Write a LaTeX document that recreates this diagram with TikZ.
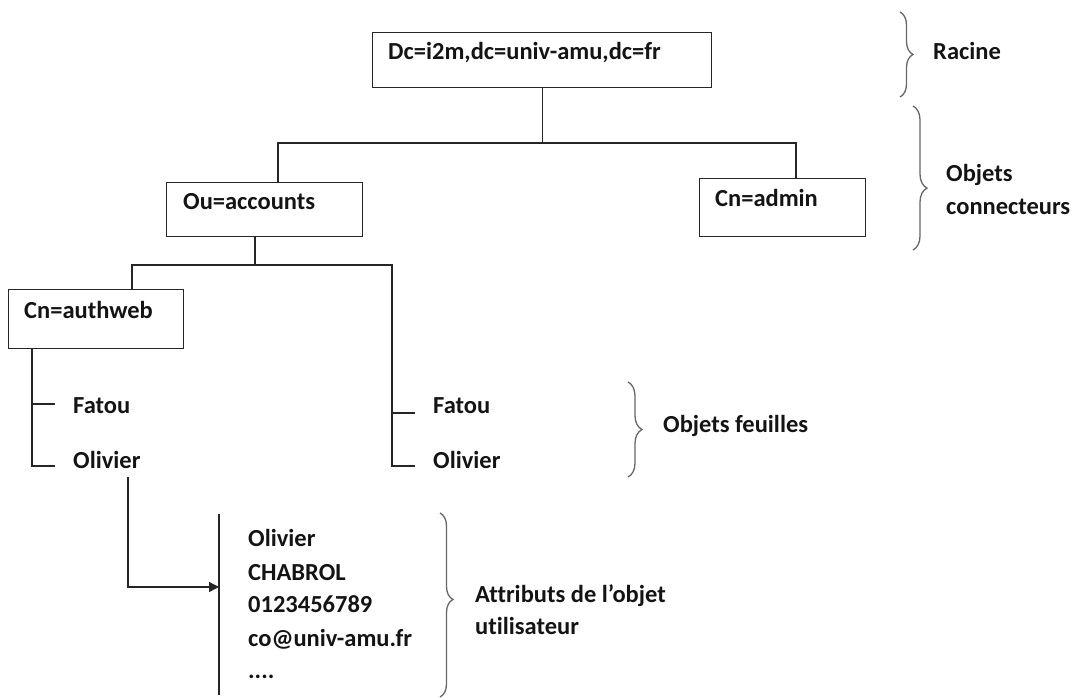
\documentclass[tikz,border=0pt]{standalone}
\usepackage{fontspec}
\setmainfont{Carlito}[Ligatures=NoCommon]
\usetikzlibrary{arrows.meta,decorations.pathreplacing}
\tikzset{
  lbl/.style={font=\fontsize{24.5}{29}\selectfont\bfseries, inner sep=0pt, anchor=base west, text=black!92},
  boxnode/.style={draw=black!85, line width=1.4pt, inner sep=0pt, anchor=north west},
  conn/.style={draw=black!85, line width=1.3pt},
  brc/.style={draw=black!60, line width=1.3pt, decorate},
}
\begin{document}
\begin{tikzpicture}[x=1pt,y=-1pt]
\useasboundingbox (0,0) rectangle (1073,700);
% boxes
\node[boxnode, minimum width=339pt, minimum height=55pt] (root) at (372,32) {};
\node[lbl] (rootT) at (388,60) {Dc=i2m,dc=univ-amu,dc=fr};
\node[boxnode, minimum width=196pt, minimum height=54pt] (ou) at (166,182) {};
\node[lbl] (ouT) at (183,210) {Ou=accounts};
\node[boxnode, minimum width=166pt, minimum height=58pt] (admin) at (699,178) {};
\node[lbl] (adminT) at (715,207) {Cn=admin};
\node[boxnode, minimum width=175pt, minimum height=59pt] (auth) at (8,289) {};
\node[lbl] (authT) at (24,319) {Cn=authweb};
% leaves
\node[lbl] (fatouL) at (73,413) {Fatou};
\node[lbl] (olivL) at (73,468) {Olivier};
\node[lbl] (fatouR) at (433,413) {Fatou};
\node[lbl] (olivR) at (433,468) {Olivier};
% attributes
\node[lbl] (a1) at (248,546) {Olivier};
\node[lbl] (a2) at (248,580) {CHABROL};
\node[lbl] (a3) at (248,612) {0123456789};
\node[lbl] (a4) at (248,646) {co@univ-amu.fr};
\node[lbl] (a5) at (248,678) {....};
% side labels
\node[lbl] (racine) at (933,60) {Racine};
\node[lbl] (objc1) at (946,182) {Objets};
\node[lbl] (objc2) at (946,215) {connecteurs};
\node[lbl] (objf) at (663,432) {Objets feuilles};
\node[lbl] (attr1) at (475,602) {Attributs de l’objet};
\node[lbl] (attr2) at (475,634) {utilisateur};
% connector coordinates
\coordinate (j1) at (root.south |- 0,143);
\coordinate (ouTop) at (278,182);
\coordinate (adTop) at (796,178);
\coordinate (ouBot) at (255,236);
\coordinate (j2) at (255,265);
\coordinate (auTop) at (132,289);
\coordinate (rTop) at (392,265);
\coordinate (rBot) at (392,466);
\coordinate (rTickF) at (415,413);
\coordinate (rTickO) at (415,466);
\coordinate (auBot) at (32,348);
\coordinate (lBot) at (32,466);
\coordinate (lTickF) at (55,404);
\coordinate (lTickO) at (55,466);
\coordinate (olSrc) at (128,477);
\coordinate (vTop) at (219,514);
\coordinate (vBot) at (219,695);
\coordinate (arrEnd) at (219,587);
% tree connectors
\draw[conn] (root.south) -- (j1);
\draw[conn] (ouTop) |- (j1) -| (adTop);
\draw[conn] (ouBot) -- (j2);
\draw[conn] (auTop) |- (j2) -| (rTop) |- (rTickO);
\draw[conn] (rTickF -| rTop) -- (rTickF);
\draw[conn] (auBot) |- (lTickO);
\draw[conn] (lTickF -| auBot) -- (lTickF);
% user arrow
\draw[conn, -{Triangle[length=10pt,width=10pt]}] (olSrc) |- (arrEnd);
\draw[conn] (vTop) -- (vBot);
% braces
\draw[brc, decoration={brace, amplitude=13pt}] (900,12) -- (900,97);
\draw[brc, decoration={brace, amplitude=14pt, aspect=0.57}] (913,106) -- (913,250);
\draw[brc, decoration={brace, amplitude=14pt}] (628,382) -- (628,477);
\draw[brc, decoration={brace, amplitude=13pt, aspect=0.47}] (440,513) -- (440,697);
\end{tikzpicture}
\end{document}
